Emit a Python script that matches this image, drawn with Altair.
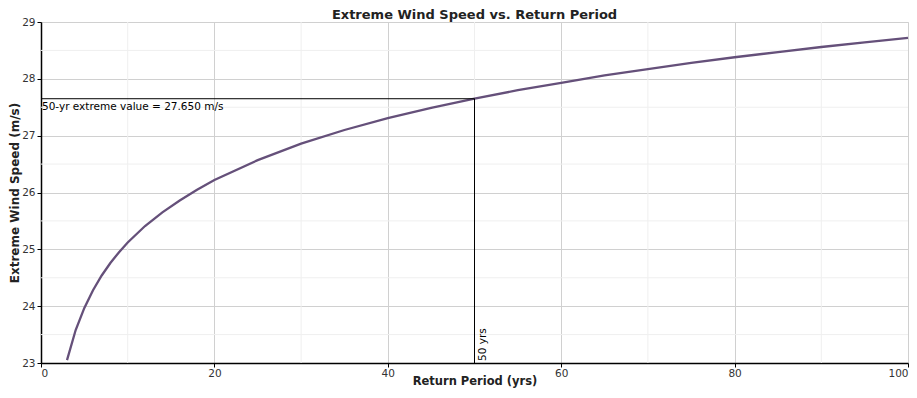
import altair as alt
import pandas as pd

# Values
period = [3, 4, 5, 6, 7, 8, 9, 10, 12, 14, 16, 18, 20, 25, 30, 35, 40, 45, 50,
          55, 60, 65, 70, 75, 80, 85, 90, 95, 100]
speed = [23.05, 23.58, 23.97, 24.28, 24.54, 24.76, 24.95, 25.12, 25.41, 25.65,
         25.86, 26.05, 26.22, 26.57, 26.86, 27.10, 27.31, 27.49, 27.65,
         27.80, 27.93, 28.06, 28.17, 28.28, 28.38, 28.47, 28.56, 28.64, 28.72]

x_ticks = [0, 20, 40, 60, 80, 100]
y_ticks = [23, 24, 25, 26, 27, 28, 29]
x_minor = [10, 30, 50, 70, 90]
y_minor = [23.5, 24.5, 25.5, 26.5, 27.5, 28.5]

ref_period = 50
ref_value = 27.650

FONT = "DejaVu Sans"
X_TITLE = "Return Period (yrs)"
Y_TITLE = "Extreme Wind Speed (m/s)"

df = pd.DataFrame({"period": period, "speed": speed})
xs = alt.Scale(domain=[0, 100], nice=False, zero=False)
ys = alt.Scale(domain=[23, 29], nice=False, zero=False)

x_axis = alt.Axis(values=x_ticks, format="d", grid=True, gridColor="#d0d0d0",
                  domainColor="#000000", domainWidth=1.5, tickColor="#000000", tickSize=4,
                  labelColor="#333333", labelFontSize=10.5, labelFont=FONT,
                  titleFont=FONT, titleFontSize=11.5, titleFontWeight="bold",
                  titleColor="#222222", labelPadding=1, titlePadding=-3)
y_axis = alt.Axis(values=y_ticks, format="d", grid=True, gridColor="#d0d0d0",
                  domainColor="#000000", domainWidth=1.5, tickColor="#000000", tickSize=4,
                  labelColor="#333333", labelFontSize=10.5, labelFont=FONT,
                  titleFont=FONT, titleFontSize=12, titleFontWeight="bold",
                  titleColor="#222222", labelPadding=2, titlePadding=0)

def X(field):
    return alt.X(field, scale=xs, axis=x_axis, title=X_TITLE)

def Y(field):
    return alt.Y(field, scale=ys, axis=y_axis, title=Y_TITLE)

minor_x = alt.Chart(pd.DataFrame({"v": x_minor})).mark_rule(color="#efefef", strokeWidth=1).encode(
    x=X("v:Q"))
minor_y = alt.Chart(pd.DataFrame({"v": y_minor})).mark_rule(color="#efefef", strokeWidth=1).encode(
    y=Y("v:Q"))

line = alt.Chart(df).mark_line(color="#65507a", strokeWidth=2.3).encode(
    x=X("period:Q"), y=Y("speed:Q"))

ann = pd.DataFrame({"x0": [0], "x1": [ref_period], "y0": [23], "y1": [ref_value]})
hline = alt.Chart(ann).mark_rule(color="#000000", strokeWidth=1).encode(
    x=X("x0:Q"), x2="x1:Q", y=Y("y1:Q"))
vline = alt.Chart(ann).mark_rule(color="#000000", strokeWidth=1).encode(
    x=X("x1:Q"), y=Y("y0:Q"), y2="y1:Q")

lab = pd.DataFrame({"x": [0], "y": [ref_value],
                    "t": [f"{ref_period}-yr extreme value = {ref_value:.3f} m/s"]})
htext = alt.Chart(lab).mark_text(align="left", baseline="top", dx=1, dy=3,
                                 font=FONT, fontSize=10.5, color="#000000").encode(
    x=X("x:Q"), y=Y("y:Q"), text="t:N")

lab2 = pd.DataFrame({"x": [ref_period], "y": [23], "t": [f"{ref_period} yrs"]})
vtext = alt.Chart(lab2).mark_text(align="left", baseline="top", angle=270, dx=2, dy=3,
                                  font=FONT, fontSize=10.5, color="#000000").encode(
    x=X("x:Q"), y=Y("y:Q"), text="t:N")

chart = alt.layer(minor_x, minor_y, line, hline, vline, htext, vtext).properties(
    width=867, height=341,
    title=alt.TitleParams("Extreme Wind Speed vs. Return Period", font=FONT, fontSize=13,
                          fontWeight="bold", color="#222222", anchor="middle", offset=0, dy=5),
    autosize=alt.AutoSizeParams(type="none"),
    padding={"left": 33, "top": 14, "right": 1, "bottom": 25},
).configure_view(stroke="#555555", strokeWidth=1.5).configure(background="white")

chart.save("out.html", embed_options={"renderer": "svg", "actions": False})
